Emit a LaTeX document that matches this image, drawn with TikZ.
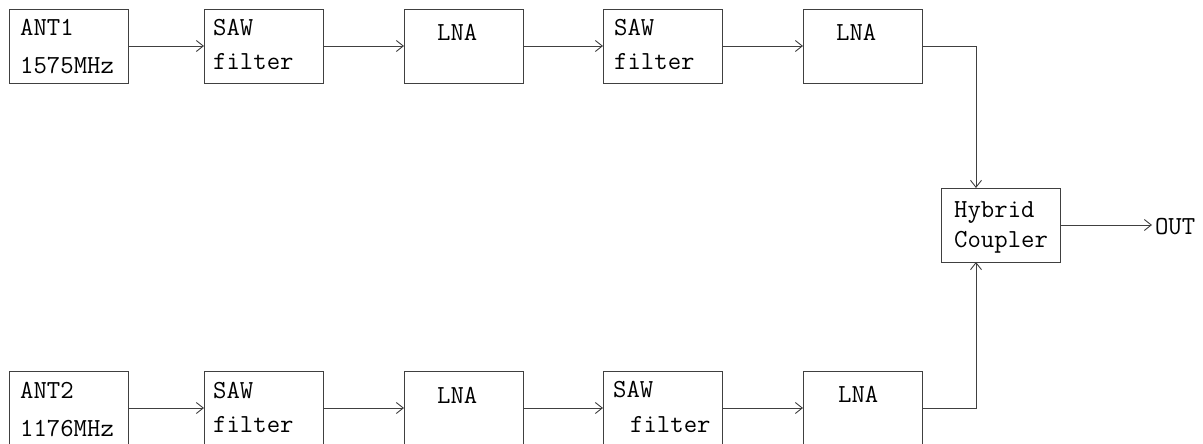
\documentclass[tikz,border=0pt]{standalone}
\usepackage{tikz}
\usetikzlibrary{arrows.meta,calc,positioning}

\tikzset{
  blk/.style={draw=black!75, line width=0.9pt, anchor=north west,
    minimum width=119pt, minimum height=74pt, inner sep=0pt, outer sep=0pt},
  txt/.style={anchor=base west, inner sep=0pt,
    font=\ttfamily\fontsize{26}{30}\selectfont},
  arr/.style={->, draw=black!75, line width=0.9pt}
}

\begin{document}
\begin{tikzpicture}[x=1pt, y=-1pt, >={Straight Barb[length=7pt,width=11pt]}]
\useasboundingbox (0,0) rectangle (1203,444);

% top branch
\node[blk] (ant1) at (9,9) {};
\node[txt] (ant1a) at (20,36) {ANT1};
\node[txt] (ant1b) at (20,74) {1575MHz};
\node[blk] (saw1) at (204,9) {};
\node[txt] (saw1a) at (213,36) {SAW};
\node[txt] (saw1b) at (213,70) {filter};
\node[blk] (lna1) at (404,9) {};
\node[txt] (lna1a) at (437,41) {LNA};
\node[blk] (saw2) at (603,9) {};
\node[txt] (saw2a) at (614,36) {SAW};
\node[txt] (saw2b) at (614,70) {filter};
\node[blk] (lna2) at (803,9) {};
\node[txt] (lna2a) at (836,41) {LNA};

% bottom branch
\node[blk] (ant2) at (9,371) {};
\node[txt] (ant2a) at (20,398) {ANT2};
\node[txt] (ant2b) at (20,436) {1176MHz};
\node[blk] (saw3) at (204,371) {};
\node[txt] (saw3a) at (213,398) {SAW};
\node[txt] (saw3b) at (213,432) {filter};
\node[blk] (lna3) at (404,371) {};
\node[txt] (lna3a) at (437,403) {LNA};
\node[blk] (saw4) at (603,371) {};
\node[txt] (saw4a) at (613,397) {SAW};
\node[txt] (saw4b) at (630,432) {filter};
\node[blk] (lna4) at (803,371) {};
\node[txt] (lna4a) at (838,402) {LNA};

% combiner
\node[blk] (hyb) at (941,188) {};
\node[txt] (hyba) at (954,217) {Hybrid};
\node[txt] (hybb) at (954,247) {Coupler};
\node[txt, outer sep=3pt] (out) at (1152,234) {OUT};
\coordinate (hin1) at (976,188);
\coordinate (hin2) at (976,262);

\draw[arr] (ant1) -- (saw1);
\draw[arr] (saw1) -- (lna1);
\draw[arr] (lna1) -- (saw2);
\draw[arr] (saw2) -- (lna2);
\draw[arr] (lna2.east) -| (hin1);
\draw[arr] (ant2) -- (saw3);
\draw[arr] (saw3) -- (lna3);
\draw[arr] (lna3) -- (saw4);
\draw[arr] (saw4) -- (lna4);
\draw[arr] (lna4.east) -| (hin2);
\draw[arr] (hyb.east) -- (hyb.east -| out.west);
\end{tikzpicture}
\end{document}
